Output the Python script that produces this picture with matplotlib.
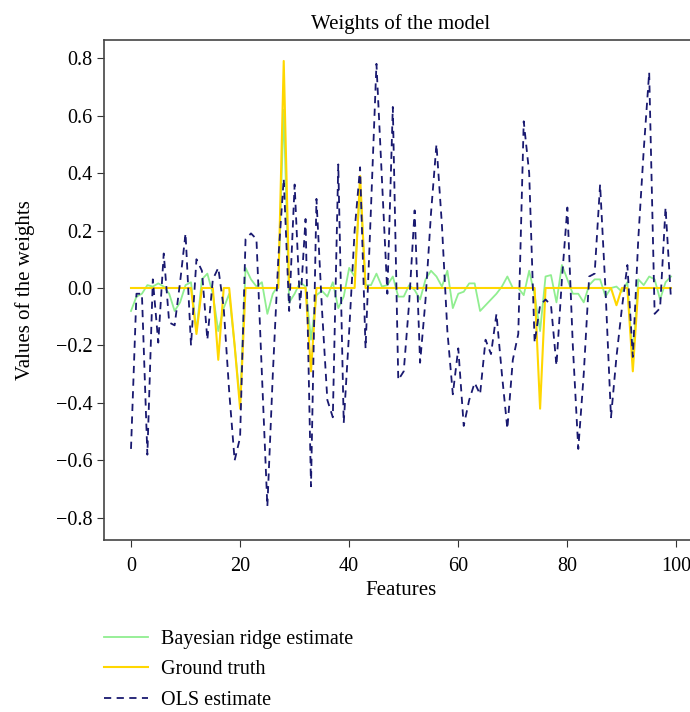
import numpy as np
import matplotlib
matplotlib.use("Agg")
import matplotlib.pyplot as plt

plt.rcParams['font.family'] = ['Liberation Serif', 'DejaVu Serif']

# Features 0..99
features = np.arange(100)

# Ground truth weights (10 relevant features)
ground_truth = np.zeros(100)
gt_idx = [12, 16, 19, 20, 28, 33, 42, 75, 89, 92]
gt_val = [-0.16, -0.25, -0.20, -0.42, 0.79, -0.29, 0.39, -0.42, -0.06, -0.29]
ground_truth[gt_idx] = gt_val

# OLS estimate
ols = [
    -0.56, -0.02, -0.02, -0.58, 0.03, -0.19, 0.12, -0.12, -0.13, 0.02,
    0.19, -0.20, 0.10, 0.06, -0.18, 0.03, 0.07, -0.07, -0.36, -0.60,
    -0.52, 0.17, 0.19, 0.17, -0.30, -0.76, -0.30, 0.10, 0.38, -0.08,
    0.36, -0.07, 0.24, -0.69, 0.31, -0.07, -0.39, -0.45, 0.43, -0.47,
    -0.15, 0.20, 0.42, -0.21, 0.28, 0.78, 0.38, -0.02, 0.63, -0.32,
    -0.29, -0.05, 0.27, -0.26, -0.04, 0.26, 0.50, 0.22, -0.15, -0.37,
    -0.21, -0.48, -0.39, -0.33, -0.37, -0.18, -0.23, -0.09, -0.30, -0.49,
    -0.25, -0.16, 0.58, 0.40, -0.19, -0.06, -0.04, -0.06, -0.27, 0.03,
    0.28, -0.20, -0.56, -0.30, 0.04, 0.05, 0.36, -0.01, -0.45, -0.24,
    -0.07, 0.08, -0.24, 0.17, 0.48, 0.75, -0.09, -0.07, 0.28, -0.04,
]

# Bayesian ridge estimate
bayes = [
    -0.08, -0.03, -0.02, 0.01, 0.005, 0.016, 0.005, -0.02, -0.08, -0.05,
    0.01, 0.02, -0.15, 0.03, 0.05, -0.02, -0.15, -0.07, -0.02, -0.20,
    -0.40, 0.07, 0.03, 0.005, 0.02, -0.09, -0.02, 0.01, 0.62, -0.05,
    -0.02, 0.02, 0.005, -0.18, -0.025, -0.01, -0.03, 0.02, -0.07, -0.03,
    0.07, 0.04, 0.35, 0.01, 0.01, 0.05, 0.005, 0.01, 0.04, -0.03,
    -0.03, 0.01, -0.007, -0.04, 0.03, 0.06, 0.04, 0.005, 0.06, -0.07,
    -0.02, -0.013, 0.016, 0.016, -0.08, -0.06, -0.04, -0.02, 0.005, 0.04,
    0.0, 0.0, -0.025, 0.06, -0.025, -0.15, 0.04, 0.045, -0.05, 0.08,
    0.03, -0.02, -0.02, -0.05, 0.01, 0.03, 0.03, -0.03, 0.0, 0.005,
    -0.013, 0.02, -0.25, 0.03, 0.01, 0.04, 0.03, -0.04, 0.02, 0.04,
]

fig = plt.figure(figsize=(6.9, 7.12), dpi=100)
# axes runs a little past the right edge, as in the reference
ax = fig.add_axes([104 / 690, 1 - 540 / 712, 594 / 690, 500 / 712])

ax.plot(features, bayes, color='lightgreen', linewidth=1.3, label='Bayesian ridge estimate')
ax.plot(features, ground_truth, color='gold', linewidth=1.5, label='Ground truth')
ax.plot(features, ols, color='midnightblue', linewidth=1.3, linestyle='--',
        dashes=(4, 3), label='OLS estimate')

ax.set_xlim(-4.95, 103.95)
ax.set_ylim(-0.877, 0.863)
ax.set_xticks([0, 20, 40, 60, 80, 100])
ax.set_yticks(np.arange(-0.8, 0.81, 0.2))
ax.set_yticklabels(['\u22120.8', '\u22120.6', '\u22120.4', '\u22120.2', '0.0',
                    '0.2', '0.4', '0.6', '0.8'])
ax.tick_params(labelsize=14.5, direction='out', length=5, color='#333333')
ax.tick_params(axis='x', pad=7)
for s in ax.spines.values():
    s.set_color('#444444')
    s.set_linewidth(1.2)

ax.set_title('Weights of the model', fontsize=15, pad=8)
ax.set_xlabel('Features', fontsize=15, labelpad=4)
ax.set_ylabel('Values of the weights', fontsize=15, labelpad=15)

fig.legend(loc='upper left', bbox_to_anchor=(86 / 690, 1 - 612 / 712),
           frameon=False, fontsize=14.5, handlelength=2.2, handletextpad=0.6,
           labelspacing=0.55)

fig.savefig('out.png', dpi=100)
